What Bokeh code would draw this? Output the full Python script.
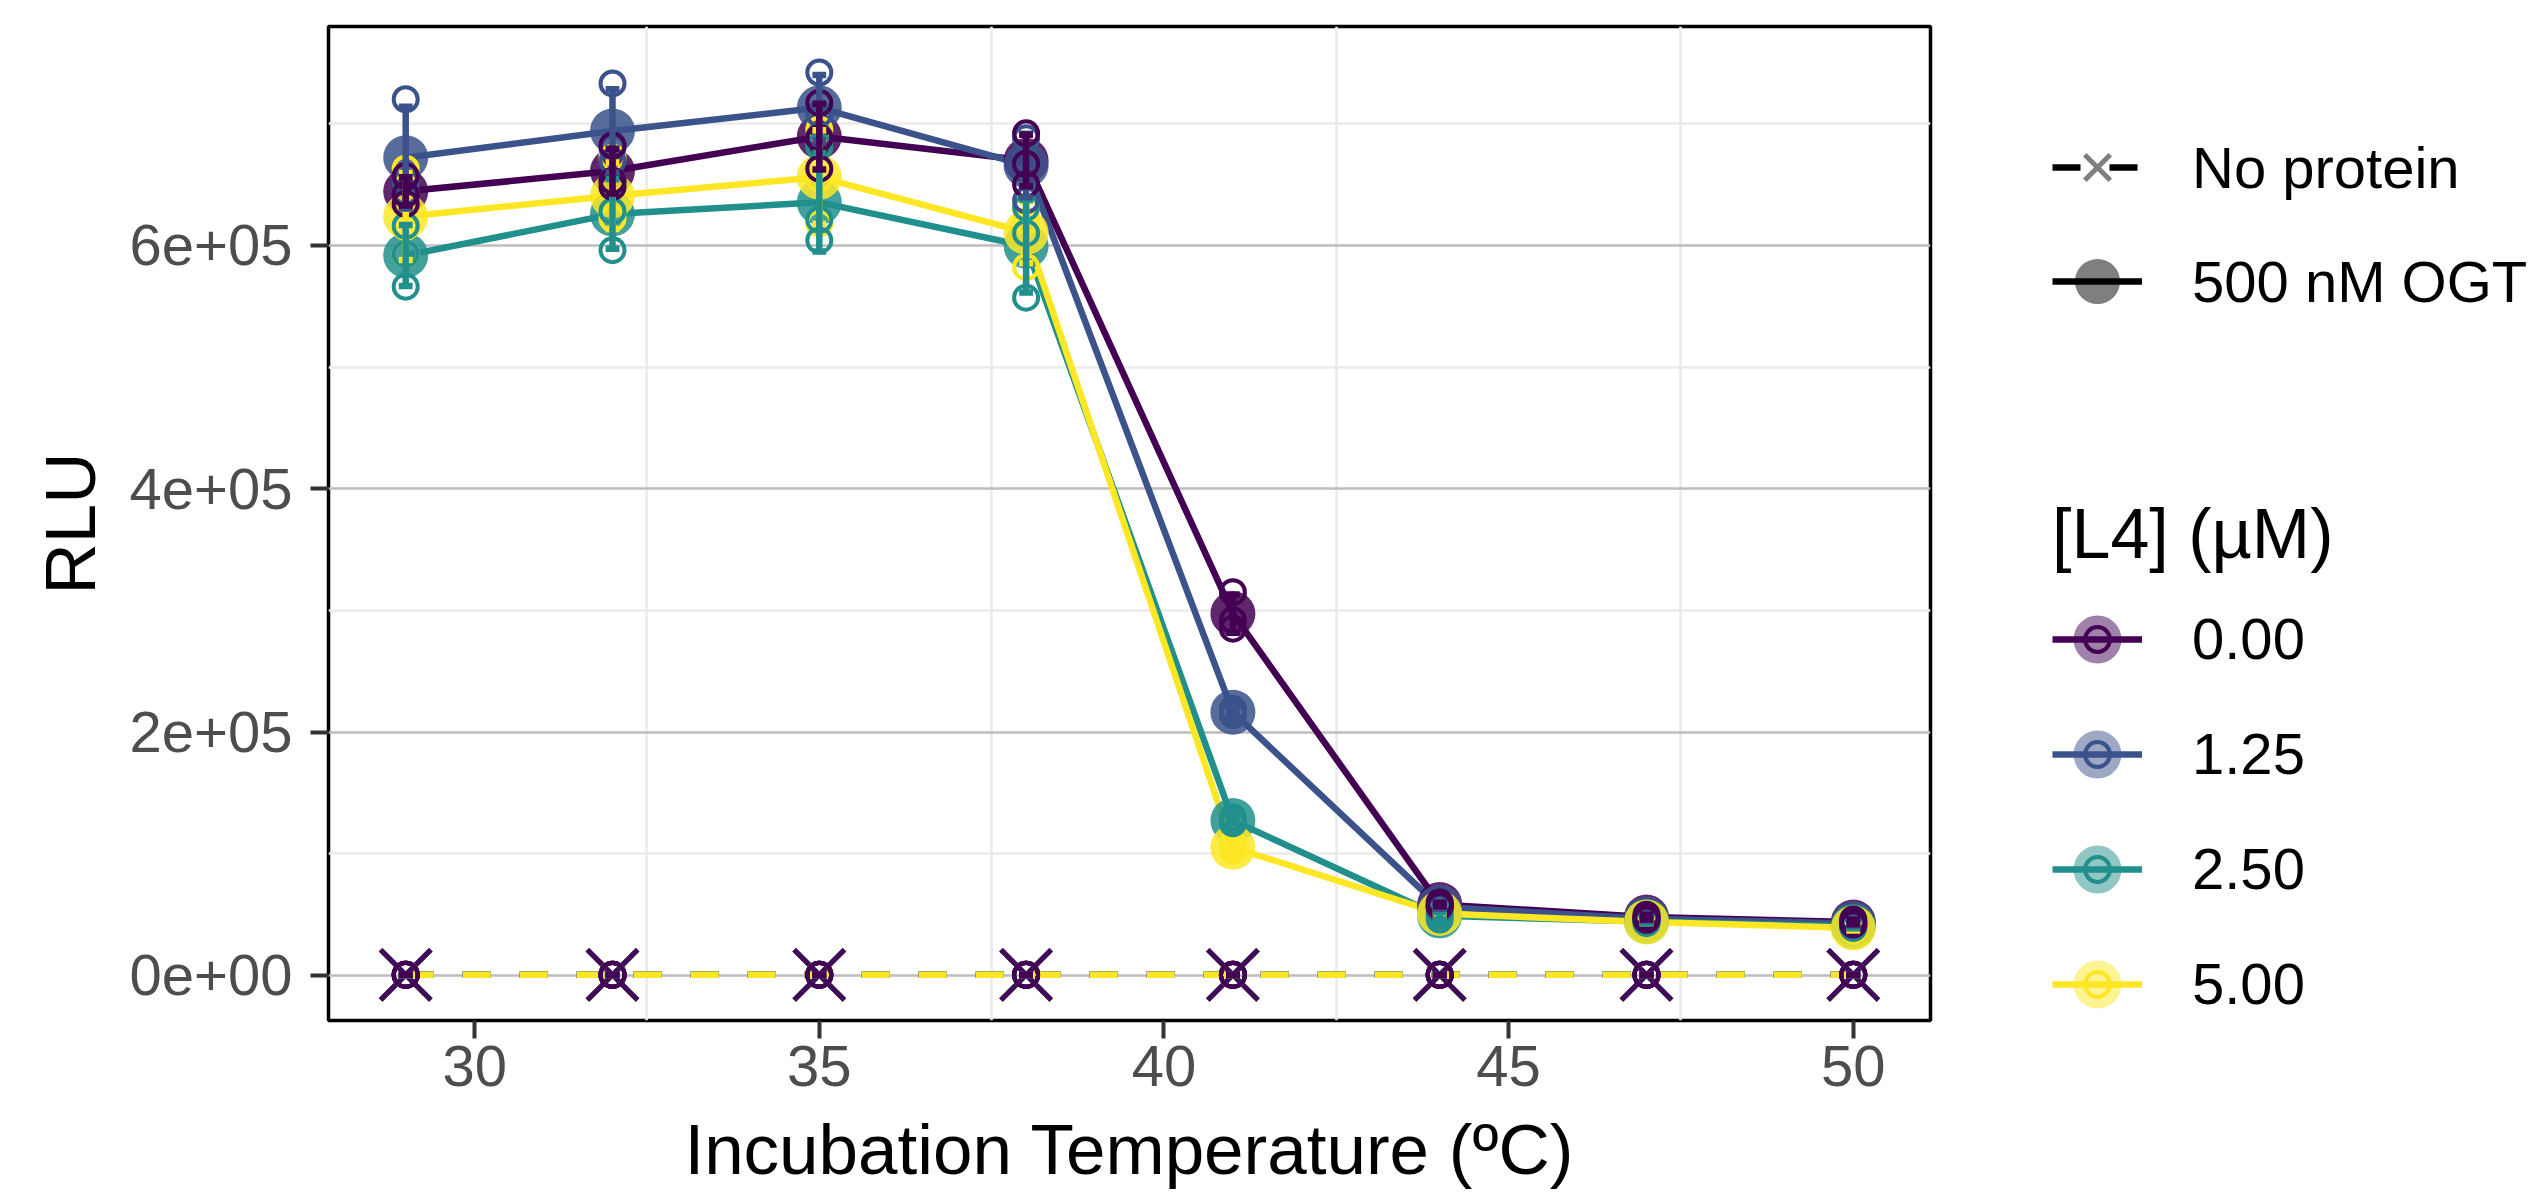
import numpy as np
from bokeh.plotting import figure
from bokeh.layouts import row
from bokeh.models import Legend, LegendItem, FixedTicker, Range1d
from bokeh.embed import file_html
from bokeh.resources import INLINE

# ---------------- data ----------------
temperature = [29, 32, 35, 38, 41, 44, 47, 50]
x_ticks = [30, 35, 40, 45, 50]
x_minor = [32.5, 37.5, 42.5, 47.5]
y_ticks = [0, 200000, 400000, 600000]
y_minor = [100000, 300000, 500000, 700000]
y_tick_labels = ["0e+00", "2e+05", "4e+05", "6e+05"]

l4_levels = ["0.00", "1.25", "2.50", "5.00"]
l4_colors = ["#440154", "#3B528B", "#21908C", "#FDE725"]
l4_key_fill = ["#A180A9", "#9DA8C5", "#90C7C5", "#FEF392"]

# 500 nM OGT, three replicate wells per temperature (RLU)
ogt_000 = [[657000, 642000, 634000], [682000, 653000, 648000], [717000, 688000, 663000],
           [692000, 667000, 650000], [315000, 292000, 285000], [60000, 58000, 57000],
           [50000, 48000, 46000], [46000, 44000, 42000]]
ogt_125 = [[720000, 652000, 644000], [733000, 680000, 669000], [742000, 708000, 689000],
           [688000, 672000, 637000], [219000, 216000, 214000], [58000, 56000, 55000],
           [48000, 47000, 45000], [44000, 43000, 41000]]
ogt_250 = [[616000, 593000, 566000], [653000, 628000, 596000], [681000, 621000, 604000],
           [631000, 610000, 557000], [130000, 127000, 125000], [52000, 49000, 46000],
           [46000, 44000, 43000], [42000, 40000, 39000]]
ogt_500 = [[663000, 615000, 593000], [672000, 628000, 622000], [695000, 655000, 618000],
           [630000, 620000, 582000], [108000, 105000, 103000], [53000, 51000, 49000],
           [45000, 44000, 43000], [41000, 39000, 37000]]

# No protein controls (RLU)
noprot_000 = [[640, 560, 500], [600, 530, 470], [620, 550, 480], [590, 520, 460],
              [610, 540, 490], [580, 510, 450], [600, 540, 470], [590, 530, 480]]
noprot_125 = [[620, 540, 490], [610, 520, 480], [600, 550, 470], [580, 530, 490],
              [600, 520, 460], [590, 540, 470], [570, 520, 480], [600, 510, 470]]
noprot_250 = [[600, 550, 470], [590, 540, 480], [610, 530, 460], [600, 520, 470],
              [580, 540, 480], [600, 530, 460], [590, 520, 470], [580, 540, 460]]
noprot_500 = [[610, 530, 480], [600, 550, 470], [590, 520, 490], [610, 540, 460],
              [600, 530, 470], [580, 520, 480], [600, 540, 470], [590, 510, 460]]

ogt_sets = [ogt_000, ogt_125, ogt_250, ogt_500]
noprot_sets = [noprot_000, noprot_125, noprot_250, noprot_500]

FONT = "Liberation Sans"
LW = 6.5


def summarize(reps):
    a = np.asarray(reps, dtype=float)
    return a.mean(axis=1), a.std(axis=1, ddof=1)


def flatten(reps):
    xs, ys = [], []
    for t, r in zip(temperature, reps):
        for v in r:
            xs.append(t)
            ys.append(v)
    return xs, ys


# ---------------- main figure ----------------
p = figure(frame_width=1602, frame_height=994,
           x_range=Range1d(27.88, 51.12), y_range=Range1d(-37000, 779800),
           min_border_left=328, min_border_right=10, min_border_top=26, min_border_bottom=172,
           output_backend="svg", toolbar_location=None,
           background_fill_color="white", border_fill_color="white")

p.outline_line_color = "black"
p.outline_line_width = 3.5

p.xaxis.ticker = FixedTicker(ticks=x_ticks, minor_ticks=x_minor)
p.yaxis.ticker = FixedTicker(ticks=y_ticks, minor_ticks=y_minor)
p.yaxis.major_label_overrides = {t: lab for t, lab in zip(y_ticks, y_tick_labels)}

p.xgrid.grid_line_color = None
p.xgrid.minor_grid_line_color = "#EBEBEB"
p.xgrid.minor_grid_line_width = 2.7
p.ygrid.grid_line_color = "#BDBDBD"
p.ygrid.grid_line_width = 2.7
p.ygrid.minor_grid_line_color = "#EBEBEB"
p.ygrid.minor_grid_line_width = 2.7

for ax in (p.xaxis[0], p.yaxis[0]):
    ax.axis_line_color = None
    ax.major_tick_line_color = "#333333"
    ax.major_tick_line_width = 4
    ax.major_tick_out = 18
    ax.major_tick_in = 0
    ax.minor_tick_line_color = None
    ax.major_label_text_font = FONT
    ax.major_label_text_font_size = "58px"
    ax.major_label_text_color = "#4D4D4D"
    ax.axis_label_text_font = FONT
    ax.axis_label_text_font_size = "71px"
    ax.axis_label_text_font_style = "normal"
    ax.axis_label_text_color = "black"

p.xaxis.axis_label = "Incubation Temperature (ºC)"
p.yaxis.axis_label = "RLU"
p.xaxis.major_label_standoff = 7
p.xaxis.axis_label_standoff = 21
p.yaxis.major_label_standoff = 18
p.yaxis.axis_label_standoff = 17

ogt_stats = [summarize(s) for s in ogt_sets]
np_stats = [summarize(s) for s in noprot_sets]

# lines through the means
for i, col in enumerate(l4_colors):
    p.line(temperature, ogt_stats[i][0], line_color=col, line_width=LW)
for i, col in enumerate(l4_colors):
    p.line(temperature, np_stats[i][0], line_color=col, line_width=LW, line_dash="28 29")

# mean points (500 nM OGT)
for i, col in enumerate(l4_colors):
    p.scatter(temperature, ogt_stats[i][0], marker="circle", size=45,
              fill_color=col, fill_alpha=0.85, line_color=None)

# mean points (No protein)
for i in reversed(range(4)):
    p.scatter(temperature, np_stats[i][0], marker="x", size=71,
              line_color=l4_colors[i], line_alpha=0.9, line_width=5)

# replicate wells
for i in reversed(range(4)):
    for reps in (ogt_sets[i], noprot_sets[i]):
        xs, ys = flatten(reps)
        p.scatter(xs, ys, marker="circle", size=24, fill_color=None,
                  line_color=l4_colors[i], line_width=4)

# error bars (mean +/- SD)
cap = 0.1
for i in reversed(range(4)):
    for mean, sd in (ogt_stats[i], np_stats[i]):
        lo = mean - sd
        hi = mean + sd
        t = np.asarray(temperature, dtype=float)
        p.segment(x0=t, y0=lo, x1=t, y1=hi, line_color=l4_colors[i], line_width=6.5)
        p.segment(x0=t - cap, y0=hi, x1=t + cap, y1=hi, line_color=l4_colors[i], line_width=6.5)
        p.segment(x0=t - cap, y0=lo, x1=t + cap, y1=lo, line_color=l4_colors[i], line_width=6.5)

# ---------------- legend panel (frame aligned with the main frame) ----------------
lp = figure(width=596, height=1192, x_range=Range1d(0, 1), y_range=Range1d(0, 1),
            min_border_left=0, min_border_right=0, min_border_top=0, min_border_bottom=0,
            x_axis_type=None, y_axis_type=None, output_backend="svg", toolbar_location=None,
            background_fill_color="white", border_fill_color="white")
lp.outline_line_color = None
lp.grid.visible = False

nan = [float("nan")]
k_np_line = lp.line(nan, nan, line_color="black", line_width=LW, line_dash="28 29")
k_np_x = lp.scatter(nan, nan, marker="x", size=36, line_color="#7F7F7F", line_width=5)
k_ogt_pt = lp.scatter(nan, nan, marker="circle", size=36, fill_color="#7F7F7F",
                      line_color="#7F7F7F", line_width=9)
k_ogt_line = lp.line(nan, nan, line_color="black", line_width=LW)

leg1 = Legend(items=[LegendItem(label="No protein", renderers=[k_np_line, k_np_x]),
                     LegendItem(label="500 nM OGT", renderers=[k_ogt_pt, k_ogt_line])],
              location=(112, 694))
leg1.glyph_width = 90
leg1.glyph_height = 90
leg1.label_height = 90
leg1.spacing = 24

items2 = []
for i, lev in enumerate(l4_levels):
    big = lp.scatter(nan, nan, marker="circle", size=25, fill_color=l4_key_fill[i],
                     line_color=l4_key_fill[i], line_width=23)
    ln = lp.line(nan, nan, line_color=l4_colors[i], line_width=LW)
    op = lp.scatter(nan, nan, marker="circle", size=25, fill_color=None,
                    line_color=l4_colors[i], line_width=4)
    items2.append(LegendItem(label=lev, renderers=[big, ln, op]))

leg2 = Legend(items=items2, location=(112, 3), title="[L4] (µM)")
leg2.glyph_width = 90
leg2.glyph_height = 62
leg2.label_height = 62
leg2.spacing = 48
leg2.title_text_font = FONT
leg2.title_text_font_size = "70px"
leg2.title_text_font_style = "normal"
leg2.title_text_color = "black"
leg2.title_standoff = 31

for lg in (leg1, leg2):
    lg.border_line_color = None
    lg.background_fill_alpha = 0
    lg.padding = 0
    lg.margin = 0
    lg.label_standoff = 50
    lg.label_text_font = FONT
    lg.label_text_font_size = "58px"
    lg.label_text_color = "black"
    lp.add_layout(lg, "center")

layout = row(p, lp)
open("out.html", "w").write(file_html(layout, INLINE))
